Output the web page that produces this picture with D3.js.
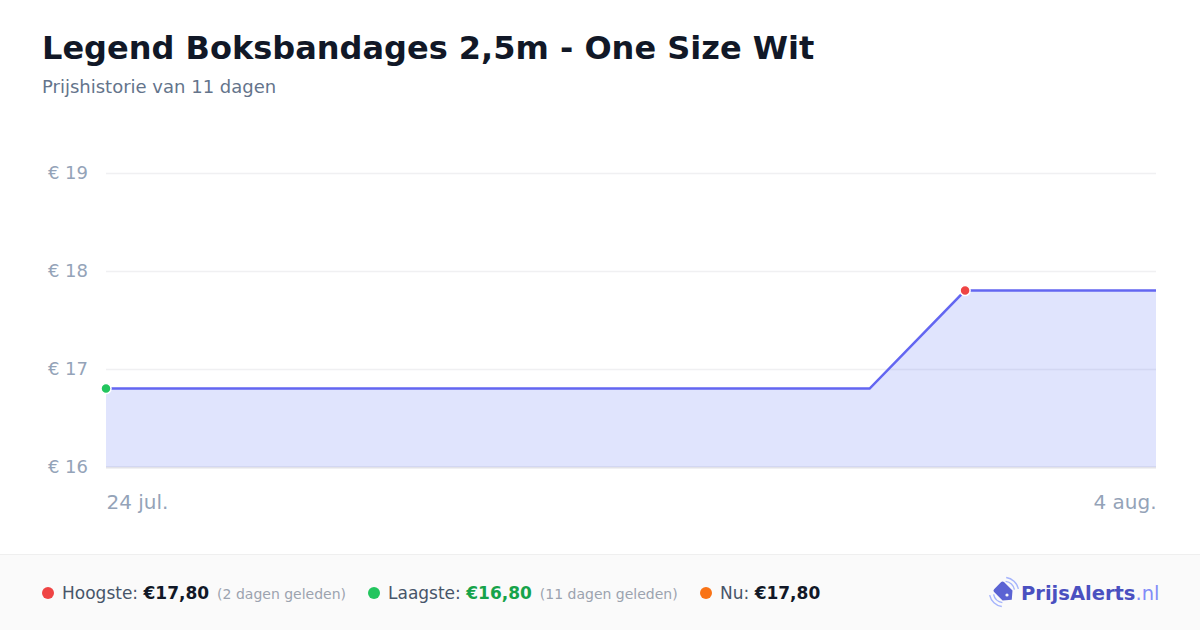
<!DOCTYPE html>
<html>
<head>
<meta charset="utf-8" />
<script src="https://cdn.jsdelivr.net/npm/d3@7"></script>
<style>
    body {
        margin: 0;
        background: #fff;
        font-family: "DejaVu Sans", sans-serif;
    }
    svg { display: block; }
</style>
</head>
<body>
<div id="chartRoot"></div>
<script>
    const title = "Legend Boksbandages 2,5m - One Size Wit";
    const subtitle = "Prijshistorie van 11 dagen";

    const dates = [
        "2024-07-24", "2024-07-25", "2024-07-26", "2024-07-27", "2024-07-28", "2024-07-29",
        "2024-07-30", "2024-07-31", "2024-08-01", "2024-08-02", "2024-08-03", "2024-08-04"
    ];
    const prices = [16.8, 16.8, 16.8, 16.8, 16.8, 16.8, 16.8, 16.8, 16.8, 17.8, 17.8, 17.8];

    const yTicks = [16, 17, 18, 19];
    const xTickLabels = ["24 jul.", "4 aug."];

    const statLabels = ["Hoogste:", "Laagste:", "Nu:"];
    const statValues = ["€17,80", "€16,80", "€17,80"];
    const statNotes = ["(2 dagen geleden)", "(11 dagen geleden)", ""];
    const statColors = ["#ef4444", "#22c55e", "#f97316"];

    const W = 1200, H = 630;
    const margin = { top: 173, right: 44, bottom: 163, left: 106 };
    const width = W - margin.left - margin.right;
    const height = H - margin.top - margin.bottom;

    const parse = d3.timeParse("%Y-%m-%d");
    const data = dates.map((d, i) => ({ date: parse(d), price: prices[i] }));

    const svg = d3.select("#chartRoot")
        .append("svg")
        .attr("width", W)
        .attr("height", H);

    // titles
    svg.append("text")
        .attr("x", 42).attr("y", 59)
        .attr("font-size", 32).attr("font-weight", "bold")
        .attr("fill", "#111827")
        .text(title);

    svg.append("text")
        .attr("x", 42).attr("y", 93)
        .attr("font-size", 18)
        .attr("fill", "#64748b")
        .text(subtitle);

    const g = svg.append("g")
        .attr("transform", `translate(${margin.left},${margin.top})`);

    const x = d3.scaleTime()
        .domain(d3.extent(data, d => d.date))
        .range([0, width]);

    const y = d3.scaleLinear()
        .domain([d3.min(yTicks), d3.max(yTicks)])
        .range([height, 0]);

    // grid + y labels
    const yAxis = g.append("g")
        .call(d3.axisLeft(y).tickValues(yTicks).tickSize(-width).tickPadding(18)
            .tickFormat(d => "€ " + d));
    yAxis.select(".domain").remove();
    yAxis.selectAll(".tick line")
        .attr("stroke", d => d === yTicks[0] ? "#e2e2e8" : "#f0f0f2")
        .attr("stroke-width", d => d === yTicks[0] ? 2 : 1.5);
    yAxis.selectAll(".tick text")
        .attr("font-family", "DejaVu Sans, sans-serif")
        .attr("font-size", 18)
        .attr("fill", "#94a3b8");

    // area + line
    const area = d3.area()
        .x(d => x(d.date))
        .y0(height)
        .y1(d => y(d.price));

    const line = d3.line()
        .x(d => x(d.date))
        .y(d => y(d.price));

    g.append("path")
        .datum(data)
        .attr("fill", "rgb(48,75,242)")
        .attr("fill-opacity", 0.15)
        .attr("d", area);

    g.append("path")
        .datum(data)
        .attr("fill", "none")
        .attr("stroke", "#6366f1")
        .attr("stroke-width", 2.5)
        .attr("d", line);

    // x labels
    const first = data[0].date, last = data[data.length - 1].date;
    const xAxis = g.append("g")
        .attr("transform", `translate(0,${height})`)
        .call(d3.axisBottom(x).tickValues([first, last]).tickSize(0).tickPadding(28)
            .tickFormat((d, i) => xTickLabels[i]));
    xAxis.select(".domain").remove();
    xAxis.selectAll(".tick text")
        .attr("font-family", "DejaVu Sans, sans-serif")
        .attr("font-size", 20)
        .attr("fill", "#94a3b8")
        .attr("text-anchor", (d, i) => i === 0 ? "start" : "end");

    // min / max markers
    const maxP = d3.max(data, d => d.price), minP = d3.min(data, d => d.price);
    const maxPt = data.find(d => d.price === maxP);
    const minPt = data.find(d => d.price === minP);
    [[minPt, statColors[1]], [maxPt, statColors[0]]].forEach(([p, c]) => {
        g.append("circle")
            .attr("cx", x(p.date)).attr("cy", y(p.price))
            .attr("r", 5)
            .attr("fill", c)
            .attr("stroke", "#fff")
            .attr("stroke-width", 1.5);
    });

    // footer
    svg.append("rect")
        .attr("x", 0).attr("y", 554).attr("width", W).attr("height", H - 554)
        .attr("fill", "#fafafa");
    svg.append("line")
        .attr("x1", 0).attr("x2", W).attr("y1", 554.5).attr("y2", 554.5)
        .attr("stroke", "#efefef");

    const itemX = [48, 374, 706];
    statLabels.forEach((lbl, i) => {
        svg.append("circle")
            .attr("cx", itemX[i]).attr("cy", 593).attr("r", 6)
            .attr("fill", statColors[i]);
        const t = svg.append("text")
            .attr("x", itemX[i] + 14).attr("y", 599)
            .attr("font-size", 17)
            .attr("fill", "#475569");
        t.append("tspan").text(lbl + " ");
        t.append("tspan")
            .attr("font-weight", "bold")
            .attr("fill", i === 1 ? "#16a34a" : "#111827")
            .text(statValues[i]);
        if (statNotes[i]) {
            t.append("tspan")
                .attr("dx", 8)
                .attr("font-size", 14)
                .attr("fill", "#9ca3af")
                .text(statNotes[i]);
        }
    });

    // logo
    const logo = svg.append("g").attr("transform", "translate(1004,592)");
    logo.append("path")
        .attr("transform", "rotate(-45)")
        .attr("d", "M-5,-9 L5,-9 Q7,-9 7,-7 L7,5 L0,11 L-7,5 L-7,-7 Q-7,-9 -5,-9 Z")
        .attr("fill", "#5b63d3");
    logo.append("circle")
        .attr("cx", 3).attr("cy", 3).attr("r", 1.6)
        .attr("fill", "#fafafa");
    [10, 14].forEach(r => {
        const arc = d3.arc().innerRadius(r).outerRadius(r + 1.4);
        logo.append("path")
            .attr("d", arc({ startAngle: 0.15, endAngle: 1.35 }))
            .attr("fill", "#a5b4fc");
        logo.append("path")
            .attr("d", arc({ startAngle: Math.PI + 0.15, endAngle: Math.PI + 1.35 }))
            .attr("fill", "#a5b4fc");
    });
    const lt = svg.append("text")
        .attr("x", 1021).attr("y", 600)
        .attr("font-size", 19.5)
        .attr("font-weight", "bold")
        .attr("fill", "#4a50c0");
    lt.append("tspan").text("PrijsAlerts");
    lt.append("tspan").attr("font-weight", "normal").attr("fill", "#818cf8").text(".nl");
</script>
</body>
</html>
